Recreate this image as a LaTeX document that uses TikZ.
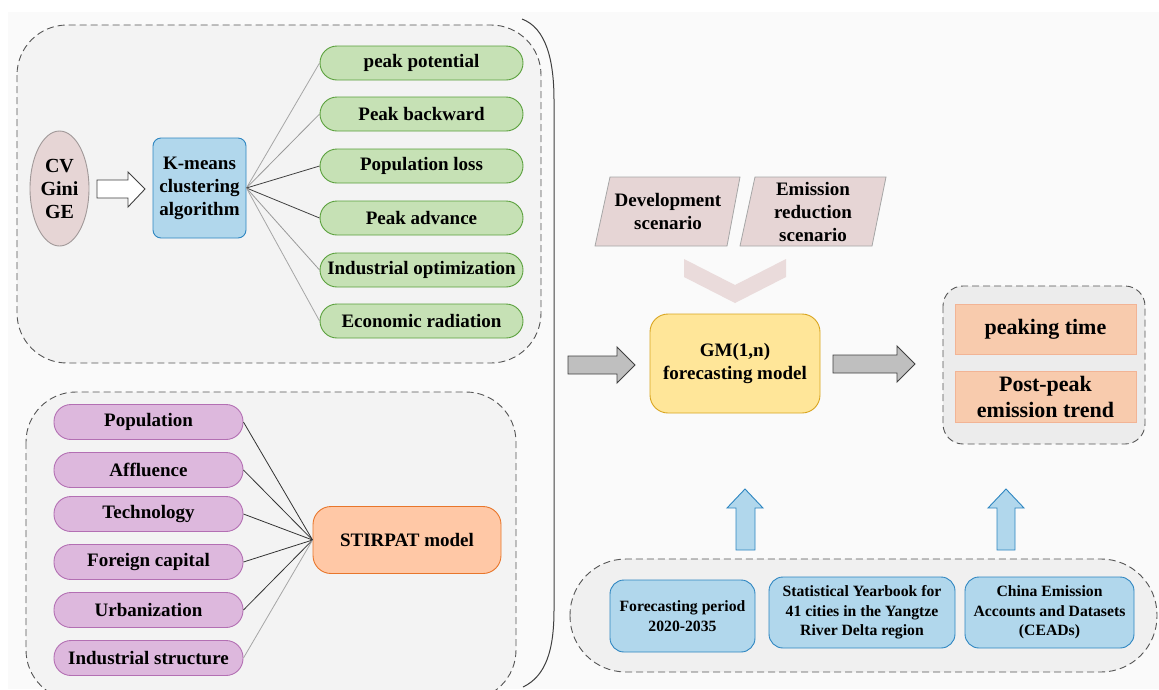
\documentclass[tikz,border=0pt]{standalone}
\usepackage{fontspec}
\setmainfont{Liberation Serif}
\usetikzlibrary{shapes.geometric}
\definecolor{bgc}{HTML}{FAFAFA}
\definecolor{boxc}{HTML}{F3F3F3}
\definecolor{outc}{HTML}{ECECEC}
\definecolor{botc}{HTML}{F0F0F0}
\definecolor{dashc}{HTML}{555555}
\definecolor{rosef}{HTML}{E6D5D5}
\definecolor{rosed}{HTML}{A09898}
\definecolor{bluef}{HTML}{B1D7EC}
\definecolor{blued}{HTML}{2E86C1}
\definecolor{greenf}{HTML}{C6E1B5}
\definecolor{greend}{HTML}{5AA03C}
\definecolor{purpf}{HTML}{DDB8DD}
\definecolor{purpd}{HTML}{B36FB3}
\definecolor{orf}{HTML}{FFC8A6}
\definecolor{ord}{HTML}{E8762B}
\definecolor{yelf}{HTML}{FFE699}
\definecolor{yeld}{HTML}{D9A520}
\definecolor{salf}{HTML}{F8CBAD}
\definecolor{sald}{HTML}{F2B495}
\definecolor{grayf}{HTML}{BFBFBF}
\definecolor{grayd}{HTML}{404040}
\begin{document}
\begin{tikzpicture}[x=1pt,y=-1pt,
  txt/.style={font=\bfseries\fontsize{19}{23}\selectfont,align=center,inner sep=0pt},
  container/.style={draw=dashc,line width=0.9pt,dash pattern=on 7pt off 4pt},
  gpill/.style={txt,draw=greend,fill=greenf,line width=0.9pt,rounded corners=17pt,minimum width=203pt,minimum height=34pt},
  ppill/.style={txt,draw=purpd,fill=purpf,line width=0.9pt,rounded corners=17pt,minimum width=189pt,minimum height=35pt},
  bbox/.style={draw=blued,fill=bluef,line width=0.9pt,rounded corners=14pt,align=center,inner sep=0pt,font=\bfseries\fontsize{15.7}{19.5}\selectfont},
  link/.style={line width=0.8pt},
  blockarrow/.style={line width=0.9pt,line join=miter}
]
\useasboundingbox (0,0) rectangle (1159,689);
\fill[bgc] (8,12) rectangle (1159,689);

% containers
\draw[container,fill=boxc,rounded corners=50pt] (17,25) rectangle (541,363);
\draw[container,fill=boxc,rounded corners=50pt] (26,392) rectangle (516,700);
\draw[container,fill=outc,rounded corners=20pt] (943,286) rectangle (1145,444);
\draw[container,fill=botc,rounded corners=56pt] (570,559) rectangle (1157,672);

% big bracket
\draw[line width=1pt,grayd] (522,19) .. controls (546,28) and (554,60) .. (554,100) -- (554,610) .. controls (554,650) and (546,676) .. (523,687);

% upper cluster
\node[ellipse,draw=rosed,fill=rosef,line width=0.9pt,minimum width=59pt,minimum height=115pt,inner sep=0pt,txt,font=\bfseries\fontsize{20}{23}\selectfont] (cv) at (59.5,188.5) {CV\\Gini\\GE};
\node[txt,draw=blued,fill=bluef,line width=0.9pt,rounded corners=8pt,minimum width=93pt,minimum height=100pt] (km) at (199.5,188) {K-means\\clustering\\algorithm};
\draw[blockarrow,fill=white,draw=grayd] (97,180) -- (128,180) -- (128,172) -- (145,189) -- (128,207) -- (128,198) -- (97,198) -- cycle;

\node[gpill] (g1) at (421.5,63) {peak potential};
\node[gpill] (g2) at (421.5,114) {Peak backward};
\node[gpill] (g3) at (421.5,166) {Population loss};
\node[gpill] (g4) at (421.5,218) {Peak advance};
\node[gpill] (g5) at (421.5,270) {Industrial optimization};
\node[gpill] (g6) at (421.5,321) {Economic radiation};
\foreach \g/\c in {g1/gray!70,g2/gray!80,g3/gray!50!black,g4/gray!50!black,g5/gray!80,g6/gray!70}
  \draw[link,\c] (km.east) -- (\g.west);

% STIRPAT cluster
\node[ppill] (p1) at (148.5,422) {Population};
\node[ppill] (p2) at (148.5,470) {Affluence};
\node[ppill] (p3) at (148.5,514) {Technology};
\node[ppill] (p4) at (148.5,562) {Foreign capital};
\node[ppill] (p5) at (148.5,610) {Urbanization};
\node[ppill] (p6) at (148.5,658) {Industrial structure};
\node[txt,draw=ord,fill=orf,line width=0.9pt,rounded corners=18pt,minimum width=188pt,minimum height=67pt] (st) at (407,540) {STIRPAT model};
\foreach \p/\c in {p1/gray!40!black,p2/gray!40!black,p3/gray!40!black,p4/gray!40!black,p5/gray!40!black,p6/gray!70}
  \draw[link,\c] (\p.east) -- (st.west);

% scenarios
\draw[draw=gray!70,fill=rosef,line width=0.8pt] (610,177) -- (740,177) -- (727,246) -- (595,246) -- cycle;
\draw[draw=gray!70,fill=rosef,line width=0.8pt] (755,177) -- (886,177) -- (872,246) -- (740,246) -- cycle;
\node[txt] (dev) at (668,211.5) {Development\\scenario};
\node[txt] (emi) at (813,211.5) {Emission\\reduction\\scenario};
\fill[rosef!85!white] (684,259) -- (735,285) -- (786,259) -- (786,277) -- (735,303) -- (684,277) -- cycle;

% GM model
\node[txt,draw=yeld,fill=yelf,line width=0.9pt,rounded corners=18pt,minimum width=170pt,minimum height=99pt] (gm) at (735,363.5) {GM(1,n)\\forecasting model};
\draw[blockarrow,fill=grayf,draw=grayd] (568,356) -- (617,356) -- (617,347) -- (635,365) -- (617,383) -- (617,374) -- (568,374) -- cycle;
\draw[blockarrow,fill=grayf,draw=grayd] (833,355) -- (897,355) -- (897,346) -- (915,364) -- (897,382) -- (897,373) -- (833,373) -- cycle;

% outputs
\node[txt,font=\bfseries\fontsize{22}{26}\selectfont,draw=sald,fill=salf,line width=0.9pt,minimum width=181pt,minimum height=50pt] (pk) at (1045.5,329) {peaking time};
\node[txt,font=\bfseries\fontsize{22}{26}\selectfont,draw=sald,fill=salf,line width=0.9pt,minimum width=181pt,minimum height=51pt] (pp) at (1045.5,396.5) {Post-peak\\emission trend};

% data sources
\node[bbox,minimum width=145pt,minimum height=72pt] (b1) at (682.5,616) {Forecasting period\\2020-2035};
\node[bbox,minimum width=186pt,minimum height=71pt] (b2) at (862,612.5) {Statistical Yearbook for\\41 cities in the Yangtze\\River Delta region};
\node[bbox,minimum width=169pt,minimum height=71pt] (b3) at (1049.5,612.5) {China Emission\\Accounts and Datasets\\(CEADs)};
\draw[blockarrow,fill=bluef,draw=blued] (736,550) -- (736,508) -- (727,508) -- (745,489) -- (763,508) -- (755,508) -- (755,550) -- cycle;
\draw[blockarrow,fill=bluef,draw=blued] (997,550) -- (997,508) -- (988,508) -- (1006,489) -- (1024,508) -- (1015,508) -- (1015,550) -- cycle;
\end{tikzpicture}
\end{document}
